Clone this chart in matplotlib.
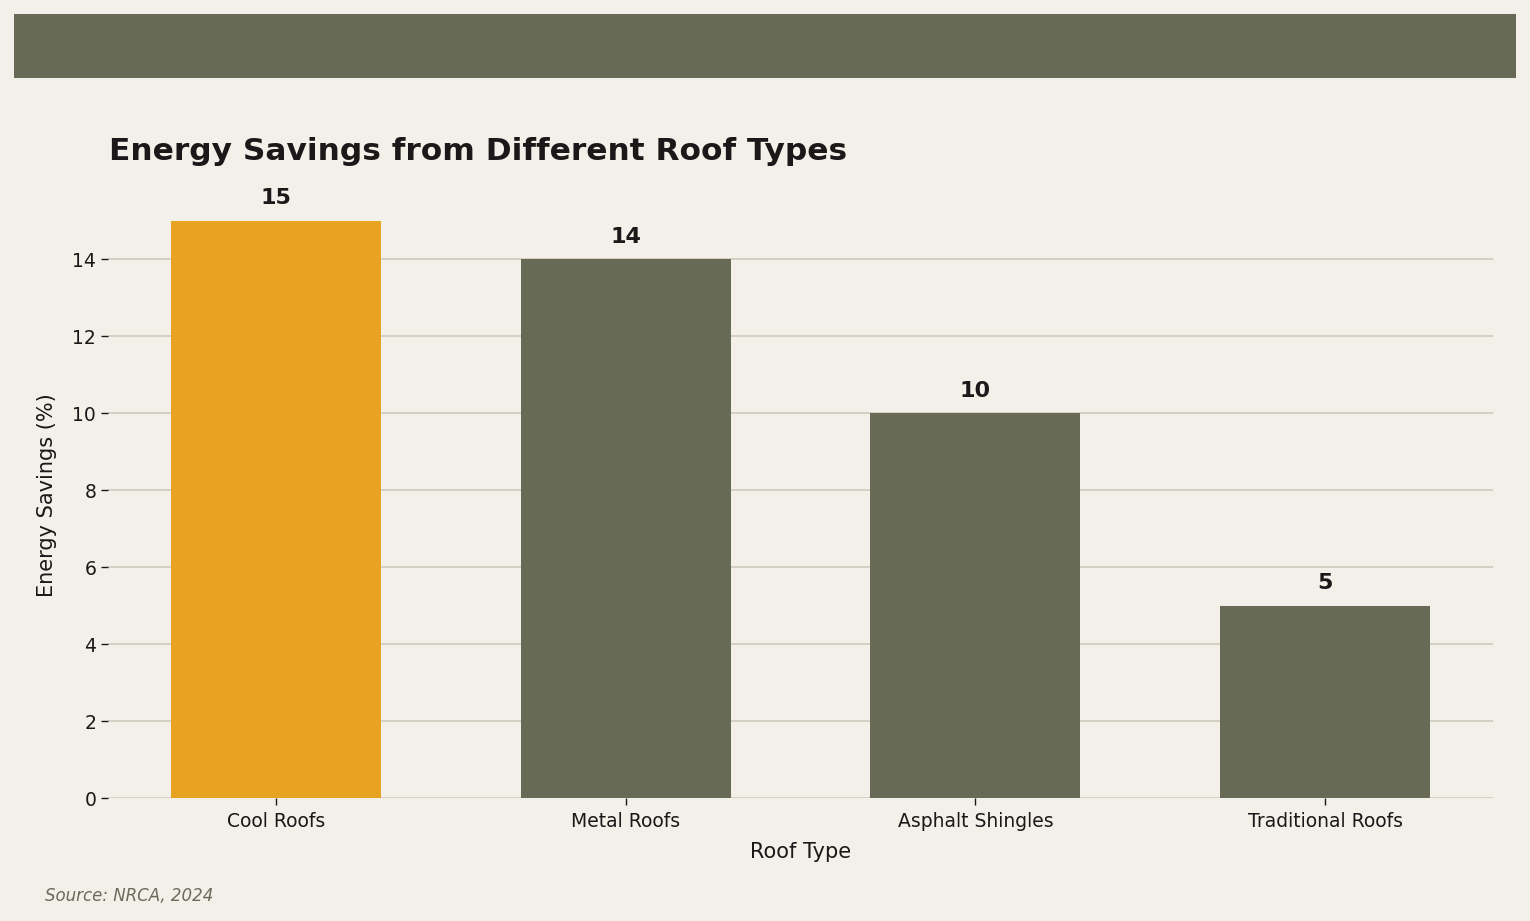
import matplotlib
matplotlib.use("Agg")
import matplotlib.pyplot as plt
from matplotlib.patches import Rectangle

categories = ["Cool Roofs", "Metal Roofs", "Asphalt Shingles", "Traditional Roofs"]
savings = [15, 14, 10, 5]
bar_colors = ["#e8a323", "#676b55", "#676b55", "#676b55"]

BG = "#f2f0e9"
DARK = "#1c1718"

plt.rcParams['font.family'] = ['DejaVu Sans']
fig = plt.figure(figsize=(15.3, 9.21), dpi=100, facecolor=BG)
fig.patches.append(Rectangle((14/1530, 1-78/921), (1516-14)/1530, (78-14)/921,
                             transform=fig.transFigure, facecolor="#676b55",
                             edgecolor="none", zorder=0))

ax = fig.add_axes([108/1530, 1-798/921, (1493-108)/1530, 0.658])
ax.set_facecolor(BG)
x = range(len(categories))
bars = ax.bar(x, savings, width=0.6, color=bar_colors, zorder=3)
ax.set_xticks(list(x))
ax.set_xticklabels(categories, fontsize=13.5, color=DARK)
ax.set_yticks([0, 2, 4, 6, 8, 10, 12, 14])
ax.tick_params(axis='y', labelsize=13.5, colors=DARK, length=5, width=1)
ax.tick_params(axis='x', length=5, width=1, colors=DARK, pad=5)
ax.set_ylim(0, 15.75)
ax.grid(axis='y', color="#cfcbbd", linewidth=1.2, zorder=0)
ax.set_axisbelow(True)
for s in ax.spines.values():
    s.set_visible(False)

for xi, v in zip(x, savings):
    ax.annotate(f"{v}", (xi, v), xytext=(0, 9), textcoords="offset points",
                ha="center", va="bottom", fontsize=16, fontweight="bold", color=DARK)

ax.set_xlabel("Roof Type", fontsize=15, color=DARK, labelpad=8)
ax.set_ylabel("Energy Savings (%)", fontsize=15, color=DARK, labelpad=11)
fig.text(109/1530, 1-152/921, "Energy Savings from Different Roof Types",
         fontsize=22.5, fontweight="bold", color=DARK, ha="left", va="center")
fig.text(45/1530, 1-896/921, "Source: NRCA, 2024", fontsize=12, style="italic",
         color="#6b6b5a", ha="left", va="center")

fig.savefig("out.png", dpi=100, facecolor=BG)
